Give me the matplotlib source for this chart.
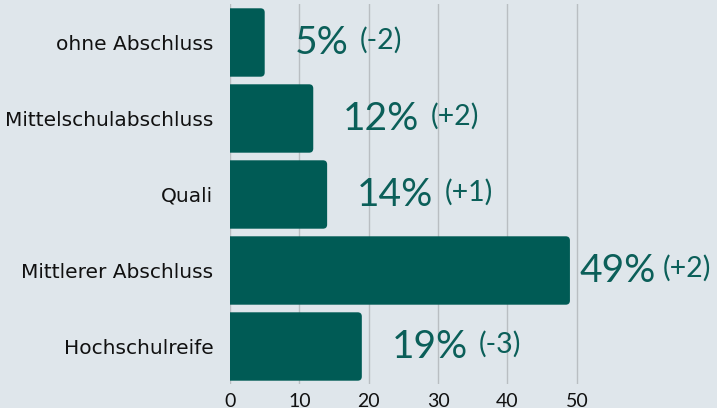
import matplotlib
matplotlib.use("Agg")
import matplotlib.pyplot as plt
from matplotlib.patches import FancyBboxPatch

plt.rcParams["font.family"] = "DejaVu Sans"

categories = ["ohne Abschluss", "Mittelschulabschluss", "Quali",
              "Mittlerer Abschluss", "Hochschulreife"]
values = [5, 12, 14, 49, 19]
changes = ["(-2)", "(+2)", "(+1)", "(+2)", "(-3)"]
xticks = [0, 10, 20, 30, 40, 50]

bg = "#dfe6eb"
teal = "#005b55"
txt_teal = "#0b5f59"

fig = plt.figure(figsize=(7.17, 4.08), dpi=100, facecolor=bg)
ax = fig.add_axes([0.3208, 0.0576, 0.6792, 0.9314], facecolor=bg)

ypos = list(range(len(categories)))
bars = ax.barh(ypos, values, height=0.9, color=teal, zorder=2)

# swap the plain rectangles for slightly rounded ones
for b in bars:
    x0, y0 = b.get_x(), b.get_y()
    w, h = b.get_width(), b.get_height()
    b.set_visible(False)
    rb = FancyBboxPatch((x0 - 1, y0), w + 1, h,
                        boxstyle="round,pad=0,rounding_size=0.6",
                        mutation_aspect=0.091, facecolor=teal,
                        edgecolor="none", zorder=2)
    ax.add_patch(rb)

ax.set_xlim(0, 70.2)
ax.set_ylim(len(categories) - 0.5, -0.5)
ax.set_xticks(xticks)
ax.set_yticks(ypos)
ax.tick_params(axis="y", length=0, pad=12, labelsize=14.5, labelcolor="#111111")
ax.tick_params(axis="x", length=0, pad=6, labelsize=14, labelcolor="#111111")
ax.set_yticklabels(categories)
ax.set_xticklabels([str(t) for t in xticks], family="Lato")
ax.grid(axis="x", color="#b9bec2", linewidth=1, zorder=0)
ax.grid(axis="y", visible=False)
for s in ax.spines.values():
    s.set_visible(False)

for y, v, c in zip(ypos, values, changes):
    gap = 10 if v > 40 else 30
    t = ax.annotate(f"{v}%", xy=(v, y), xytext=(gap, -1),
                    textcoords="offset pixels",
                    va="center", ha="left", fontsize=28, color=txt_teal,
                    family="Lato", zorder=3)
    ax.annotate(c, xy=(1, 0.5), xycoords=t, xytext=(6 if v > 40 else 11, 3),
                textcoords="offset pixels", va="center", ha="left",
                fontsize=20.5, color=txt_teal, family="Lato", zorder=3)

fig.savefig("out.png", dpi=100, facecolor=bg)
